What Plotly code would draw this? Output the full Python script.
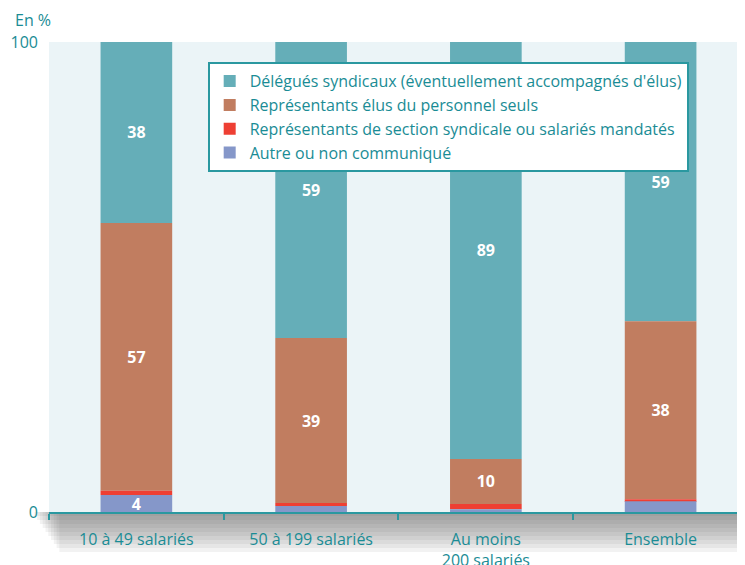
import numpy as np
import plotly.graph_objects as go

categories = ["10 à 49 salariés", "50 à 199 salariés", "Au moins<br>200 salariés", "Ensemble"]

series_names = [
    "Délégués syndicaux (éventuellement accompagnés d'élus)",
    "Représentants élus du personnel seuls",
    "Représentants de section syndicale ou salariés mandatés",
    "Autre ou non communiqué",
]

# values (%)
delegues = [38.5, 63.0, 88.7, 59.4]
elus = [57.0, 35.1, 9.6, 37.9]
section = [0.9, 0.6, 1.1, 0.4]
autre = [3.6, 1.3, 0.6, 2.3]

# printed labels
delegues_labels = ["38", "59", "89", "59"]
elus_labels = ["57", "39", "10", "38"]
section_labels = ["", "", "", ""]
autre_labels = ["4", "", "", ""]

colors = ["#65AEB8", "#C17D60", "#EE3F33", "#8597C9"]
teal = "#1A8C95"
font_family = "Open Sans, Noto Sans, sans-serif"

# stacking bases (bottom: autre, section, elus, delegues)
b_autre = np.zeros(len(categories))
b_section = b_autre + np.array(autre)
b_elus = b_section + np.array(section)
b_delegues = b_elus + np.array(elus)

fig = go.Figure()
# drawn top-to-bottom so the small bottom segments (and their labels) are on top
stack = [
    (series_names[0], delegues, b_delegues, delegues_labels, colors[0]),
    (series_names[1], elus, b_elus, elus_labels, colors[1]),
    (series_names[2], section, b_section, section_labels, colors[2]),
    (series_names[3], autre, b_autre, autre_labels, colors[3]),
]
for name, vals, base, labels, col in stack:
    fig.add_trace(go.Bar(
        name=name, x=categories, y=vals, base=base, text=labels,
        texttemplate="%{text}", textposition="inside", insidetextanchor="middle",
        constraintext="none", textangle=0,
        textfont=dict(color="white", size=16, family=font_family, weight="bold"),
        marker=dict(color=col, line=dict(width=0)),
        width=0.41, hoverinfo="skip",
    ))

# soft drop shadow under the plot area
for k in range(1, 11):
    fig.add_shape(type="rect", xref="paper", yref="paper",
                  x0=-0.025 + 0.004 * k, x1=1.0, y0=-0.0085 * k, y1=0,
                  fillcolor="#5a5a5a", opacity=0.08, line=dict(width=0), layer="below")

fig.update_layout(
    width=737, height=557,
    barmode="overlay",
    paper_bgcolor="white",
    plot_bgcolor="#EBF4F7",
    margin=dict(l=41, r=0, t=34, b=53, autoexpand=False),
    font=dict(family=font_family, color=teal, size=16),
    uniformtext=dict(minsize=15, mode="show"),
    showlegend=True,
    legend=dict(
        traceorder="normal",
        x=0.228, y=0.957, xanchor="left", yanchor="top",
        bgcolor="white", bordercolor="#2A98A0", borderwidth=2,
        font=dict(size=16, color=teal, family=font_family),
        tracegroupgap=0, itemwidth=30,
    ),
    xaxis=dict(
        type="category", range=[-0.5, 3.483], automargin=False,
        showline=True, linecolor="#2A98A0", linewidth=2,
        ticks="outside", tickson="boundaries", ticklen=6, tickcolor="#2A98A0", tickwidth=2,
        showgrid=False, tickfont=dict(size=16, color=teal), ticklabelstandoff=12,
        fixedrange=True,
    ),
    yaxis=dict(
        range=[0, 100], tickvals=[0, 100], ticktext=["0", "100"], automargin=False,
        showgrid=False, zeroline=False, showline=False,
        ticks="inside", ticklen=51, tickcolor="#2A98A0", tickwidth=2,
        tickfont=dict(size=16, color=teal), ticklabelstandoff=10,
        fixedrange=True,
    ),
    annotations=[dict(text="En %", xref="paper", yref="paper", x=-0.052, y=1.047,
                      xanchor="left", yanchor="middle", showarrow=False,
                      font=dict(size=16, color=teal))],
)

fig.write_html("out.html")
